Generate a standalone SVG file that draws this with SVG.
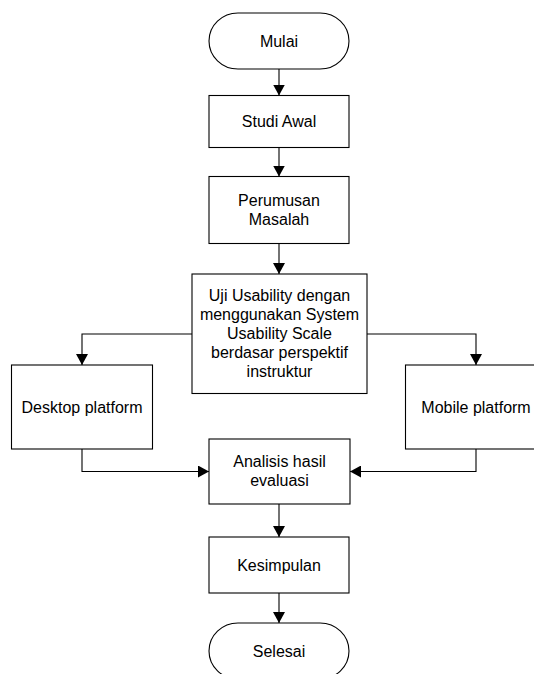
<svg xmlns="http://www.w3.org/2000/svg" width="534" height="674" viewBox="0 0 534 674">
<defs>
<marker id="ah" viewBox="0 0 11 12" refX="11" refY="6" markerWidth="11" markerHeight="12" markerUnits="userSpaceOnUse" orient="auto">
<path d="M0,0 L11,6 L0,12 Z" fill="#000"/>
</marker>
<style>
.box{fill:#fff;stroke:#000;stroke-width:1.1}
.t{font-family:"Liberation Sans",Arial,sans-serif;font-size:16px;fill:#000;text-anchor:middle}
.c{fill:none;stroke:#000;stroke-width:1.1;marker-end:url(#ah)}
</style>
</defs>
<rect width="534" height="674" fill="#fff"/>
<g id="connectors">
<path class="c" d="M279,69 V95.5"/>
<path class="c" d="M279,147.5 V176.5"/>
<path class="c" d="M279,243.5 V274"/>
<path class="c" d="M192,334 H82 V365"/>
<path class="c" d="M367,334 H476 V365"/>
<path class="c" d="M82,449 V471.5 H209"/>
<path class="c" d="M476,449 V471.5 H350"/>
<path class="c" d="M279,504 V537"/>
<path class="c" d="M279,593 V623"/>
</g>
<g id="mulai">
<rect class="box" x="209" y="13" width="140" height="56" rx="29" ry="28"/>
<text class="t" x="279" y="47">Mulai</text>
</g>
<g id="studi-awal">
<rect class="box" x="209" y="95.5" width="140" height="52"/>
<text class="t" x="279" y="127">Studi Awal</text>
</g>
<g id="perumusan-masalah">
<rect class="box" x="209" y="176.5" width="140" height="67"/>
<text class="t" x="279" y="205.5">Perumusan</text>
<text class="t" x="279" y="224.5">Masalah</text>
</g>
<g id="uji-usability">
<rect class="box" x="192" y="274" width="175" height="119.5"/>
<text class="t" x="279.5" y="301">Uji Usability dengan</text>
<text class="t" x="279.5" y="320">menggunakan System</text>
<text class="t" x="279.5" y="339">Usability Scale</text>
<text class="t" x="279.5" y="358">berdasar perspektif</text>
<text class="t" x="279.5" y="377">instruktur</text>
</g>
<g id="desktop-platform">
<rect class="box" x="11.5" y="365" width="141" height="84"/>
<text class="t" x="82" y="412.5">Desktop platform</text>
</g>
<g id="mobile-platform">
<rect class="box" x="405.5" y="365" width="141" height="84"/>
<text class="t" x="476" y="412.5">Mobile platform</text>
</g>
<g id="analisis-hasil-evaluasi">
<rect class="box" x="209" y="439" width="141" height="65"/>
<text class="t" x="279.5" y="467">Analisis hasil</text>
<text class="t" x="279.5" y="486">evaluasi</text>
</g>
<g id="kesimpulan">
<rect class="box" x="209" y="537" width="140" height="56"/>
<text class="t" x="279" y="570.5">Kesimpulan</text>
</g>
<g id="selesai">
<rect class="box" x="209" y="623" width="140" height="56" rx="29" ry="28"/>
<text class="t" x="279" y="656.5">Selesai</text>
</g>
</svg>
